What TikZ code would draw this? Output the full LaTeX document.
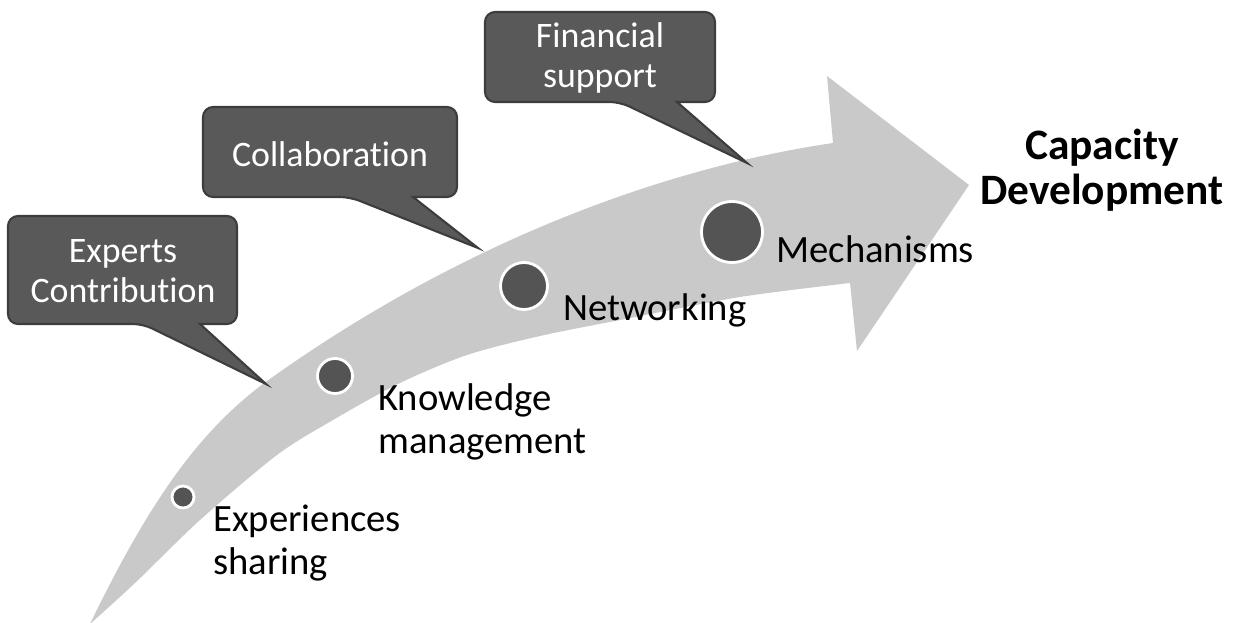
\documentclass[tikz,border=0pt]{standalone}
\usepackage{fontspec}
\setmainfont{Carlito}[Ligatures=NoCommon]
\definecolor{bandgray}{gray}{0.79}
\definecolor{boxgray}{gray}{0.35}
\definecolor{boxedge}{gray}{0.24}
\definecolor{dotgray}{gray}{0.33}
\tikzset{
  bubble/.style={fill=boxgray,draw=boxedge,line width=1.2pt},
  bubbletext/.style={text=white,align=center,inner sep=0pt,font=\fontsize{20.4}{22.7}\selectfont},
  stage/.style={circle,fill=dotgray,draw=white,line width=1.6pt,inner sep=0pt},
  stagetext/.style={anchor=west,align=left,inner sep=0pt,font=\fontsize{22}{24.4}\selectfont}
}
% #1 left, #2 top, #3 right, #4 bottom, #5 #6 tail base, #7 tip
\newcommand{\bubblebox}[7]{%
  \filldraw[bubble] (#6,#4) [rounded corners=0.2cm] -- (#3,#4) -- (#3,#2) -- (#1,#2) -- (#1,#4) -- (#5,#4) [sharp corners] -- (#7) -- cycle;}

\begin{document}
\begin{tikzpicture}[x=0.02cm,y=-0.02cm]
\useasboundingbox (0,0) rectangle (1236,622);

\fill[bandgray] (90,624) .. controls (150,500) and (200,430) .. (267,381)
  .. controls (450,250) and (650,170) .. (833,143)
  -- (827,76) -- (969,185) -- (857,351) -- (850,283)
  -- plot[smooth] coordinates {(850,283) (740,297) (620,320) (540,336) (467,355) (400,383) (333,420) (277,455) (200,520) (135,583) (90,624)} -- cycle;

\coordinate (ExpertsTip) at (266,384);
\coordinate (CollabTip) at (478,248);
\coordinate (FinanceTip) at (747,163);
\bubblebox{8}{216}{237}{324}{143}{200}{ExpertsTip}
\bubblebox{203}{107}{457}{197}{350}{413}{CollabTip}
\bubblebox{485}{12}{715}{102}{620}{677}{FinanceTip}
\node[bubbletext] (Experts) at (123,271) {Experts\\Contribution};
\node[bubbletext] (Collab) at (330,154) {Collaboration};
\node[bubbletext] (Finance) at (600,58) {Financial\\support};

\node[stage,minimum size=0.44cm] (S1) at (183,497) {};
\node[stage,minimum size=0.70cm] (S2) at (335,376) {};
\node[stage,minimum size=0.94cm] (S3) at (524,286) {};
\node[stage,minimum size=1.22cm] (S4) at (732,232) {};

\node[stagetext] (L1) at (213,543) {Experiences\\sharing};
\node[stagetext] (L2) at (378,422) {Knowledge\\management};
\node[stagetext] (L3) at (563,310) {Networking};
\node[stagetext] (L4) at (776,249) {Mechanisms};
\node[align=center,inner sep=0pt,font=\bfseries\fontsize{24.7}{25.6}\selectfont] (Goal) at (1102,170) {Capacity\\Development};
\end{tikzpicture}
\end{document}
